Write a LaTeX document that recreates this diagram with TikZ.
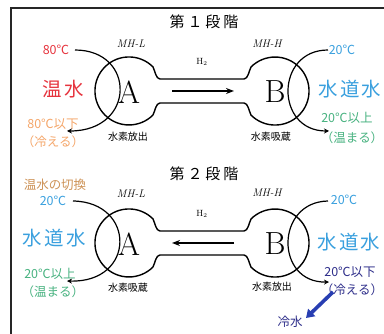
\documentclass[tikz,border=0pt]{standalone}
\usepackage{fontspec}
\usetikzlibrary{arrows.meta}
\newfontfamily\jp{Noto Sans CJK JP}
\newfontfamily\jpwide[LetterSpace=12]{Noto Sans CJK JP}
\newfontfamily\jphead[LetterSpace=20]{Noto Sans CJK JP}
\definecolor{hotred}{RGB}{230,52,62}
\definecolor{coolpeach}{RGB}{244,166,106}
\definecolor{tapblue}{RGB}{58,160,222}
\definecolor{warmgreen}{RGB}{72,178,128}
\definecolor{switchtan}{RGB}{205,146,86}
\definecolor{coldnavy}{RGB}{46,46,138}
\definecolor{coldblue}{RGB}{40,62,178}
\tikzset{
  jlabel/.style={font=\jp\fontsize{12.5}{12.5}\selectfont, inner sep=0pt},
  jwater/.style={font=\jpwide\fontsize{19.5}{19.5}\selectfont, inner sep=0pt},
  jsmall/.style={font=\jp\fontsize{10}{10}\selectfont, inner sep=0pt},
  jtitle/.style={font=\jphead\fontsize{15}{15}\selectfont, inner sep=0pt},
  alloy/.style={font=\itshape\fontsize{11}{11}\selectfont, inner sep=0pt},
  cell/.style={font=\fontsize{32}{32}\selectfont, inner sep=0pt},
  flow/.style={line width=1.2pt, -{Stealth[length=5pt,width=5pt]}},
  gas/.style={line width=1.6pt, -{Stealth[length=8pt,width=6pt]}},
}
% outline of the two reactors joined by the tube
\def\reactorpair{(160,79) -- (244,79) .. controls (248,79) and (249,71) .. (251,67)
  arc[start angle=-135, end angle=135, radius=34]
  .. controls (249,111) and (248,103) .. (244,103) -- (160,103)
  .. controls (156,103) and (155,111) .. (153,115)
  arc[start angle=45, end angle=315, radius=34]
  .. controls (155,71) and (156,79) .. (160,79) -- cycle}
\def\loops{\draw[flow] (lin) .. controls (136,50) and (136,131) .. (lout);
  \draw[flow] (rin) .. controls (275,50) and (275,131) .. (rout);}

\begin{document}
\begin{tikzpicture}[x=1pt,y=-1pt]
\useasboundingbox (0,0) rectangle (384,334);
\clip (0,0) rectangle (384,334);
\draw[line width=2.2pt, black!85] (11,345) -- (11,8) -- (395,8);

% stage 1
\begin{scope}
  \draw[line width=1.4pt] \reactorpair;
  \node[jtitle] (title1) at (204,22) {第１段階};
  \node[cell] (a1) at (129,92) {A};
  \node[cell] (b1) at (275,92) {B};
  \node[alloy] (mhl1) at (131,44) {MH-L};
  \node[alloy] (mhh1) at (267,44) {MH-H};
  \node[font=\fontsize{9}{9}\selectfont, inner sep=0pt] (h1) at (202,62) {H$_2$};
  \coordinate (gs1) at (172,91);
  \coordinate (ge1) at (234,91);
  \draw[gas] (gs1) -- (ge1);
  \node[jsmall] (rel1) at (128,137) {水素放出};
  \node[jsmall] (abs1) at (271,137) {水素吸蔵};
  \node[jlabel, hotred] (hotin1) at (56,50) {80℃};
  \node[jwater, hotred] (hot1) at (63,89) {温水};
  \node[jlabel, coolpeach] (hotout1) at (53,124) {80℃以下};
  \node[jlabel, coolpeach] (cool1) at (53,142) {（冷える）};
  \node[jlabel, tapblue] (tapin1) at (342,50) {20℃};
  \node[jwater, tapblue, anchor=west] (tap1) at (318,89) {水道水};
  \node[jlabel, warmgreen] (tapout1) at (347,118) {20℃以上};
  \node[jlabel, warmgreen] (warm1) at (352,138) {（温まる）};
  \coordinate (lin) at (75,50);
  \coordinate (lout) at (67,131);
  \coordinate (rin) at (328,50);
  \coordinate (rout) at (329,131);
  \loops
\end{scope}

% stage 2
\begin{scope}[shift={(0,152)}]
  \draw[line width=1.4pt] \reactorpair;
  \node[jtitle] (title2) at (204,22) {第２段階};
  \node[cell] (a2) at (129,92) {A};
  \node[cell] (b2) at (275,92) {B};
  \node[alloy] (mhl2) at (131,42) {MH-L};
  \node[alloy] (mhh2) at (267,41) {MH-H};
  \node[font=\fontsize{9}{9}\selectfont, inner sep=0pt] (h2) at (202,62) {H$_2$};
  \coordinate (gs2) at (234,91);
  \coordinate (ge2) at (172,91);
  \draw[gas] (gs2) -- (ge2);
  \node[jsmall] (abs2) at (128,136) {水素吸蔵};
  \node[jsmall] (rel2) at (272,135) {水素放出};
  \node[jlabel, switchtan] (switch2) at (55,33) {温水の切換};
  \node[jlabel, tapblue] (tapin2) at (53,49) {20℃};
  \node[jwater, tapblue] (tapl2) at (54,86) {水道水};
  \node[jlabel, warmgreen] (tapout2) at (50,122) {20℃以上};
  \node[jlabel, warmgreen] (warm2) at (53,140) {（温まる）};
  \node[jlabel, tapblue] (tapin3) at (344,48) {20℃};
  \node[jwater, tapblue, anchor=west] (tapr2) at (317,90) {水道水};
  \node[jlabel, coldnavy] (tapout3) at (350,120) {20℃以下};
  \node[jlabel, coldnavy] (cool2) at (352,138) {（冷える）};
  \node[jlabel, coldnavy] (cold2) at (290,170) {冷水};
  \coordinate (lin) at (73,49);
  \coordinate (lout) at (67,129);
  \coordinate (rin) at (328,49);
  \coordinate (rout) at (329,130);
  \loops
  \coordinate (ct) at (333,140);
  \coordinate (ch) at (306,166);
  \draw[coldblue, line width=3.6pt, -{Triangle[length=8pt,width=10pt]}] (ct) -- (ch);
\end{scope}
\end{tikzpicture}
\end{document}
